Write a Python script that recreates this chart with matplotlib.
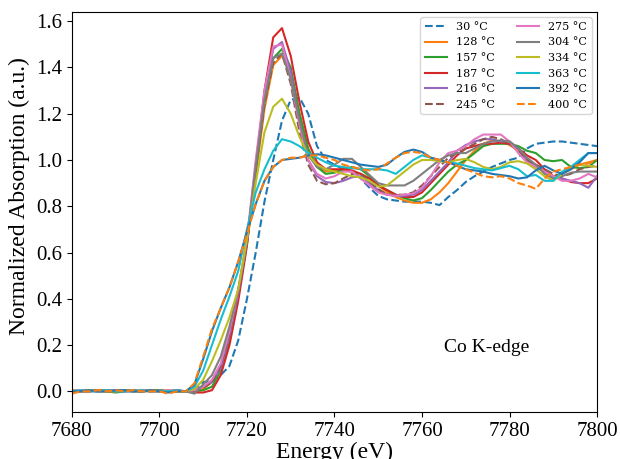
import matplotlib
matplotlib.use("Agg")
import matplotlib.pyplot as plt
import numpy as np

# energy grid, 2 eV steps
energy = np.arange(7680, 7801, 2)

# each series: pre-edge 7680-7706, edge 7708-7736, post-edge 7738-7800
t30 = ([0.005, 0.0, 0.0, 0.0, 0.005, 0.005, 0.0, 0.005, 0.0, 0.005, 0.0, -0.005, 0.0, 0.0]
       + [0.01, 0.04, 0.045, 0.07, 0.11, 0.22, 0.40, 0.60, 0.82, 1.00, 1.17, 1.26, 1.27, 1.20, 1.06]
       + [1.00, 0.98, 0.96, 0.95, 0.92, 0.88, 0.845, 0.83, 0.825, 0.82, 0.82, 0.82, 0.815, 0.805, 0.84, 0.87,
          0.905, 0.93, 0.95, 0.97, 0.985, 1.0, 1.01, 1.05, 1.07, 1.075, 1.08, 1.08, 1.075, 1.07, 1.065, 1.06])
t128 = ([0.0, 0.005, 0.0, 0.005, 0.0, 0.005, 0.005, 0.0, 0.005, 0.0, 0.0, 0.005, 0.0, 0.0]
        + [0.005, 0.01, 0.04, 0.11, 0.24, 0.42, 0.64, 0.93, 1.22, 1.41, 1.45, 1.38, 1.2, 1.04, 0.97]
        + [0.95, 0.955, 0.955, 0.95, 0.94, 0.92, 0.89, 0.86, 0.84, 0.825, 0.815, 0.815, 0.83, 0.86, 0.9, 0.95,
           1.0, 1.04, 1.07, 1.085, 1.08, 1.065, 1.04, 1.0, 0.97, 0.95, 0.93, 0.94, 0.96, 0.98, 0.99, 1.0])
t157 = ([0.0, 0.0, 0.005, 0.0, 0.0, -0.005, 0.0, 0.005, 0.0, 0.005, 0.005, 0.0, 0.0, 0.0]
        + [0.0, 0.005, 0.02, 0.09, 0.22, 0.41, 0.64, 0.95, 1.25, 1.44, 1.48, 1.40, 1.2, 1.05, 0.97]
        + [0.94, 0.945, 0.96, 0.97, 0.96, 0.93, 0.89, 0.87, 0.85, 0.835, 0.825, 0.835, 0.87, 0.91, 0.95, 0.98,
           1.0, 1.03, 1.06, 1.07, 1.07, 1.07, 1.06, 1.04, 1.03, 1.0, 0.995, 1.0, 0.97, 0.965, 0.97, 1.0])
t187 = ([0.005, 0.0, 0.0, 0.005, 0.0, 0.0, 0.005, 0.0, 0.0, 0.005, 0.0, 0.0, 0.005, 0.0]
        + [-0.005, -0.005, 0.005, 0.07, 0.2, 0.39, 0.63, 0.97, 1.30, 1.53, 1.57, 1.45, 1.25, 1.08, 0.99]
        + [0.96, 0.96, 0.96, 0.955, 0.94, 0.92, 0.89, 0.87, 0.85, 0.84, 0.84, 0.86, 0.9, 0.94, 0.98, 1.02,
           1.05, 1.06, 1.07, 1.07, 1.075, 1.07, 1.05, 1.02, 1.0, 0.96, 0.93, 0.92, 0.905, 0.9, 0.9, 0.92])
t216 = ([0.0, 0.005, 0.005, 0.0, 0.0, 0.005, 0.0, 0.0, 0.005, 0.0, 0.0, 0.0, 0.005, 0.0]
        + [0.01, 0.02, 0.04, 0.1, 0.24, 0.42, 0.65, 0.98, 1.28, 1.48, 1.51, 1.38, 1.16, 1.0, 0.93]
        + [0.905, 0.9, 0.91, 0.925, 0.93, 0.9, 0.87, 0.85, 0.845, 0.845, 0.85, 0.87, 0.91, 0.95, 0.99, 1.04,
           1.065, 1.08, 1.09, 1.09, 1.08, 1.08, 1.05, 1.0, 0.97, 0.95, 0.93, 0.92, 0.91, 0.9, 0.88, 0.93])
t245 = ([0.0, 0.0, 0.005, 0.005, 0.0, 0.0, 0.005, 0.0, 0.0, 0.0, 0.005, 0.0, 0.0, 0.0]
        + [0.0, 0.015, 0.04, 0.11, 0.25, 0.43, 0.65, 0.96, 1.24, 1.42, 1.46, 1.33, 1.12, 0.98, 0.91]
        + [0.895, 0.9, 0.92, 0.94, 0.94, 0.91, 0.875, 0.85, 0.85, 0.85, 0.86, 0.89, 0.93, 0.97, 1.01, 1.03,
           1.05, 1.07, 1.09, 1.1, 1.09, 1.07, 1.04, 1.0, 0.98, 0.96, 0.94, 0.93, 0.94, 0.96, 0.97, 0.975])
t275 = ([0.005, 0.005, 0.0, 0.0, 0.0, 0.005, 0.0, 0.0, 0.005, 0.0, 0.0, 0.005, 0.0, 0.0]
        + [0.005, 0.02, 0.05, 0.12, 0.26, 0.44, 0.66, 1.0, 1.30, 1.49, 1.50, 1.35, 1.15, 1.0, 0.94]
        + [0.92, 0.93, 0.95, 0.95, 0.92, 0.89, 0.86, 0.85, 0.845, 0.85, 0.855, 0.88, 0.93, 0.99, 1.03, 1.04,
           1.06, 1.09, 1.11, 1.11, 1.11, 1.08, 1.03, 0.99, 0.97, 0.95, 0.93, 0.91, 0.91, 0.92, 0.94, 0.925])
t304 = ([0.0, 0.0, 0.0, 0.005, 0.005, 0.0, 0.0, 0.005, 0.0, 0.0, 0.005, 0.0, 0.0, 0.0]
        + [-0.01, 0.03, 0.07, 0.15, 0.28, 0.44, 0.65, 0.97, 1.26, 1.44, 1.46, 1.35, 1.17, 1.02, 0.97]
        + [0.96, 0.98, 1.005, 1.005, 0.97, 0.935, 0.9, 0.89, 0.89, 0.89, 0.91, 0.94, 0.97, 1.0, 1.02, 1.03,
           1.03, 1.05, 1.07, 1.08, 1.085, 1.08, 1.05, 1.01, 0.98, 0.94, 0.92, 0.93, 0.945, 0.95, 0.95, 0.95])
t334 = ([0.005, 0.0, 0.005, 0.0, 0.0, 0.0, 0.005, 0.0, 0.0, 0.005, 0.0, 0.0, 0.0, 0.0]
        + [0.01, 0.05, 0.13, 0.22, 0.32, 0.44, 0.66, 0.9, 1.12, 1.23, 1.265, 1.2, 1.1, 1.02, 0.98]
        + [0.96, 0.95, 0.94, 0.93, 0.925, 0.91, 0.885, 0.89, 0.92, 0.95, 0.98, 1.0, 1.0, 0.995, 0.99, 1.0,
           1.005, 0.99, 0.97, 0.96, 0.97, 0.99, 0.995, 0.985, 0.96, 0.93, 0.91, 0.94, 0.97, 0.98, 0.975, 0.97])
t363 = ([0.0, 0.005, 0.0, 0.0, 0.005, 0.0, 0.0, 0.0, 0.005, 0.0, 0.0, 0.0, 0.005, 0.0]
        + [0.02, 0.09, 0.2, 0.31, 0.41, 0.52, 0.7, 0.86, 0.96, 1.04, 1.09, 1.08, 1.06, 1.03, 1.01]
        + [0.99, 0.975, 0.97, 0.965, 0.96, 0.96, 0.96, 0.955, 0.94, 0.97, 1.0, 1.02, 1.01, 1.0, 0.99, 0.985,
           0.975, 0.965, 0.96, 0.955, 0.965, 0.975, 0.96, 0.93, 0.935, 0.91, 0.91, 0.95, 0.97, 1.0, 1.03, 1.03])
t392 = ([0.0, 0.0, 0.005, 0.0, 0.0, 0.005, 0.005, 0.0, 0.0, 0.005, 0.0, -0.005, 0.0, 0.0]
        + [0.03, 0.14, 0.26, 0.36, 0.45, 0.56, 0.69, 0.81, 0.91, 0.97, 1.0, 1.005, 1.01, 1.02, 1.025]
        + [1.02, 1.01, 1.0, 0.99, 0.98, 0.975, 0.97, 0.98, 1.01, 1.035, 1.045, 1.035, 1.01, 1.0, 0.99, 0.975,
           0.96, 0.955, 0.95, 0.94, 0.935, 0.93, 0.92, 0.925, 0.955, 0.975, 0.955, 0.94, 0.96, 0.99, 1.03, 1.03])
t400 = ([-0.01, 0.0, 0.0, 0.005, 0.0, 0.005, 0.0, 0.005, 0.0, 0.0, 0.0, -0.01, 0.0, 0.0]
        + [0.035, 0.15, 0.27, 0.36, 0.45, 0.56, 0.68, 0.81, 0.91, 0.97, 1.0, 1.01, 1.01, 1.02, 1.02]
        + [1.01, 1.0, 0.98, 0.97, 0.96, 0.955, 0.96, 0.985, 1.01, 1.03, 1.035, 1.03, 1.01, 1.0, 0.99, 0.975,
           0.96, 0.945, 0.93, 0.925, 0.93, 0.92, 0.9, 0.89, 0.875, 0.92, 0.95, 0.96, 0.97, 0.98, 0.985, 1.0])

temps = [30, 128, 157, 187, 216, 245, 275, 304, 334, 363, 392, 400]
spectra = [t30, t128, t157, t187, t216, t245, t275, t304, t334, t363, t392, t400]
dashed = {30, 245, 400}

serif = ["Liberation Serif", "DejaVu Serif"]

fig = plt.figure(figsize=(6.2, 4.59), dpi=100)
ax = fig.add_axes([0.116, 0.102, 0.847, 0.872])

for i, (t, mu) in enumerate(zip(temps, spectra)):
    ax.plot(energy, mu, color=f"C{i % 10}", lw=1.5,
            ls="--" if t in dashed else "-", label=f"{t} °C")

ax.set_xlim(7680, 7800)
ax.set_ylim(-0.09, 1.64)
ax.set_xticks(np.arange(7680, 7801, 20))
ax.set_yticks(np.arange(0, 1.61, 0.2))
ax.set_xlabel("Energy (eV)", family=serif, fontsize=17, labelpad=1)
ax.set_ylabel("Normalized Absorption (a.u.)", family=serif, fontsize=17)
ax.yaxis.set_label_coords(-0.08, 0.54)
for lab in ax.get_xticklabels() + ax.get_yticklabels():
    lab.set_family(serif)
    lab.set_fontsize(15)

ax.text(7765, 0.19, "Co K-edge", family=serif, fontsize=14, va="center")
ax.legend(ncol=2, loc="upper right", prop={"family": "DejaVu Serif", "size": 8})

fig.savefig("out.png", dpi=100)
